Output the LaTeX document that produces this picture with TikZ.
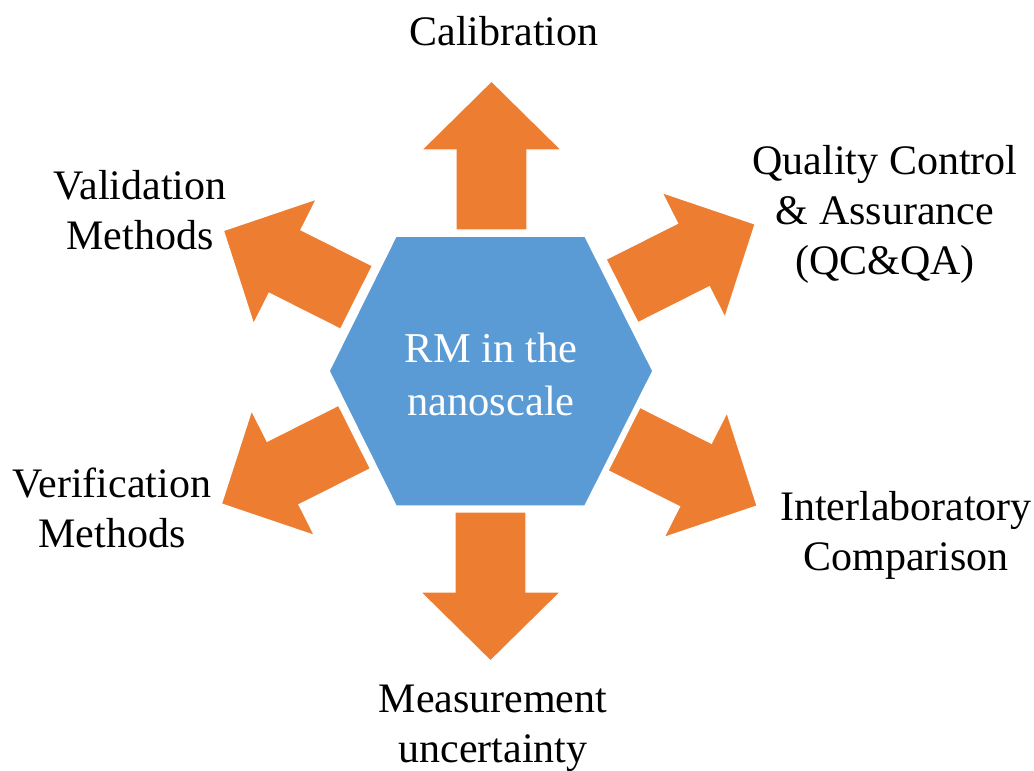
\documentclass[tikz,border=0pt]{standalone}
\usepackage{fontspec}
\setmainfont{Liberation Serif}
\definecolor{hexblue}{HTML}{5B9BD5}
\definecolor{arroworange}{HTML}{ED7D31}
\tikzset{
  fatarrow/.style={fill=arroworange, draw=white, line width=1.2pt, line join=miter},
  hexshape/.style={fill=hexblue, draw=white, line width=1.5pt},
  outerlabel/.style={font=\fontsize{42}{50}\selectfont, align=center, text=black, inner sep=0pt},
  centerlabel/.style={font=\fontsize{42.5}{53}\selectfont, align=center, text=white, inner sep=0pt}
}
% block arrow: tail centre at the origin, pointing along +x
\newcommand\blockarrow{%
  \path[fatarrow] (0,-35.5) -- (80,-35.5) -- (80,-70) -- (149,0) -- (80,70)
    -- (80,35.5) -- (0,35.5) -- cycle;}
\begin{document}
\begin{tikzpicture}[x=1pt, y=-1pt]
  \useasboundingbox (0,0) rectangle (1034,771);

  % central hexagon
  \path[hexshape] (396,236) -- (585,236) -- (653,371) -- (585,506)
    -- (396,506) -- (329,371) -- cycle;
  \node[centerlabel] (rm) at (491,374) {RM in the\\nanoscale};

  % six arrows pointing outwards
  \begin{scope}[shift={(491.5,230)}, rotate=90] \blockarrow \end{scope}
  \begin{scope}[shift={(490.5,512)}, rotate=-90] \blockarrow \end{scope}
  \begin{scope}[shift={(622,291)}, rotate=26.7] \blockarrow \end{scope}
  \begin{scope}[shift={(624,439)}, rotate=-26.7] \blockarrow \end{scope}
  \begin{scope}[shift={(356.5,297.5)}, rotate=153.3] \blockarrow \end{scope}
  \begin{scope}[shift={(354.5,437)}, rotate=-153.3] \blockarrow \end{scope}

  % labels
  \node[outerlabel] (cal) at (504,31) {Calibration};
  \node[outerlabel] (qc) at (885,214) {Quality Control\\\& Assurance\\(QC\&QA)};
  \node[outerlabel] (inter) at (906,535) {Interlaboratory\\Comparison};
  \node[outerlabel] (meas) at (493,728) {Measurement\\uncertainty};
  \node[outerlabel] (verif) at (112,508) {Verification\\Methods};
  \node[outerlabel] (valid) at (140,210) {Validation\\Methods};
\end{tikzpicture}
\end{document}
